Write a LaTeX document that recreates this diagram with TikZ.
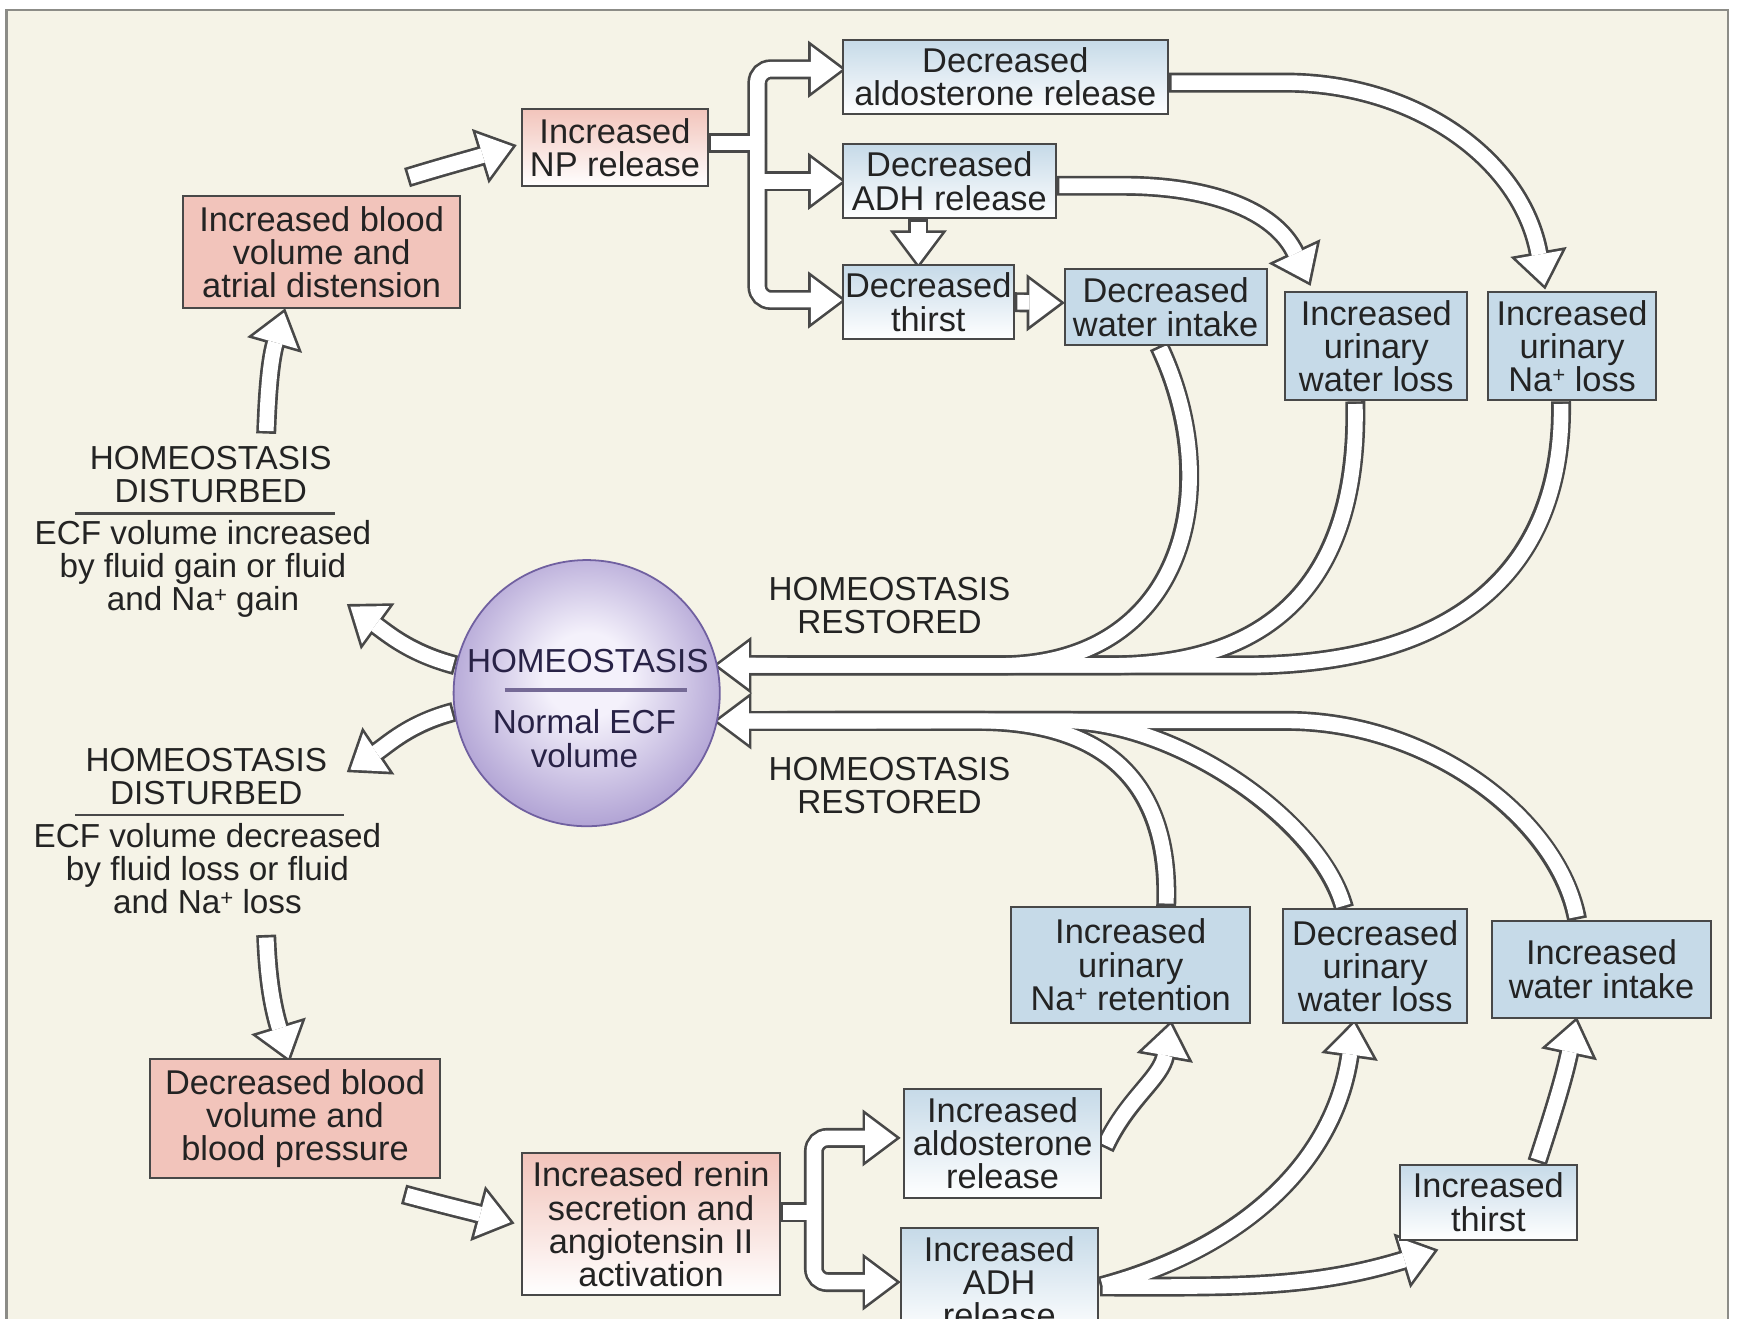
\documentclass[tikz,border=0pt]{standalone}
\usepackage{fontspec}
\setmainfont{Liberation Sans}
\usetikzlibrary{calc}
\definecolor{cream}{RGB}{245,243,231}
\definecolor{frame}{RGB}{140,140,135}
\definecolor{edge}{RGB}{72,72,72}
\definecolor{ink}{RGB}{35,35,35}
\definecolor{ballink}{RGB}{40,34,70}
\definecolor{pinkbox}{RGB}{242,196,187}
\definecolor{bluebox}{RGB}{198,218,232}
\definecolor{ballin}{RGB}{244,241,251}
\definecolor{ballout}{RGB}{152,134,198}
\definecolor{ballrim}{RGB}{112,96,160}
\pgfdeclareradialshading{homeball}{\pgfpoint{0bp}{4bp}}{color(0bp)=(ballin); color(8bp)=(ballin); color(34bp)=(ballout); color(50bp)=(ballout)}
\pgfdeclarelayer{back}
\pgfdeclarelayer{arr}
\pgfsetlayers{back,arr,main}
\newcommand\naplus{Na\raisebox{0.25em}{\fontsize{10}{10}\selectfont +}}
\tikzstyle{bx}=[rectangle,draw=edge,line width=0.9pt,align=center,
  inner sep=0pt,text=ink,font=\fontsize{15.5}{15}\selectfont]
\tikzstyle{pk}=[bx,fill=pinkbox]
\tikzstyle{pkg}=[bx,top color=pinkbox,bottom color=white]
\tikzstyle{bl}=[bx,fill=bluebox]
\tikzstyle{blg}=[bx,top color=bluebox,bottom color=white]
\tikzstyle{lb}=[align=center,inner sep=0pt,text=ink]
\tikzstyle{ball}=[circle,draw=ballrim,line width=0.8pt,shading=homeball,
  minimum size=120pt,inner sep=0pt]
\tikzstyle{dk}=[draw=edge,line width=9pt,shorten >=14pt]
\tikzstyle{wt}=[draw=white,line width=6.6pt,shorten >=14pt,shorten <=1.2pt]
\tikzset{
  hdk/.pic={\filldraw[draw=edge,fill=edge,line width=2.4pt,line join=miter]
    (-28,-21) -- (0,0) -- (-28,21) -- cycle;},
  hwt/.pic={\fill[white] (-28,-21) -- (0,0) -- (-28,21) -- cycle;}
}
% shafts of all block arrows, drawn twice (outline, then white body)
\newcommand\blockpaths[1]{
  \draw[#1] (t1) to[out=17, in=197] (h1);
  \draw[#1] (t2) to[out=88, in=254] (h2);
  \draw[#1] (home.168) to[out=165, in=-36] (h3);
  \draw[#1] (home.188) to[out=195, in=34] (h4);
  \draw[#1] (t5) to[out=-88, in=107] (h5);
  \draw[#1] (t6) to[out=-15, in=165] (h6);
  % NP fork
  \draw[#1, shorten >=0pt] ($(np.east)+(0,4)$) -- (fk1);
  \draw[#1, shorten <=0pt, rounded corners=6pt] (fk1) |- (h7a);
  \draw[#1, shorten <=0pt, rounded corners=6pt] (fk1) |- (h7c);
  \draw[#1, shorten <=0pt] (fk1 |- h7b) -- (h7b);
  % renin fork
  \draw[#1, shorten >=0pt] ($(renin.east)+(0,11)$) -- (fk2);
  \draw[#1, shorten <=0pt, rounded corners=6pt] (fk2) |- (h8a);
  \draw[#1, shorten <=0pt, rounded corners=6pt] (fk2) |- (h8b);
  \draw[#1] ($(adhdn.south)+(-28,0)$) -- (h9);
  \draw[#1] (thirstdn.east) -- (h10);
  \draw[#1] ($(adhdn.east)+(0,-4)$) -- ++(60,0) to[out=0, in=115] (h11);
  \draw[#1] ($(aldodn.east)+(0,-5)$) -- ++(105,0) to[out=0, in=100] (h12);
  % back to the centre
  \draw[#1] ($(waterdn.south)+(-6,0)$) .. controls (1105,750) and (1070,589) .. (900,589) -- (h13);
  \draw[#1] ($(uwlup.south)+(-19,0)$) .. controls (1225,690) and (1170,589) .. (1000,589) -- (h13);
  \draw[#1] ($(unaup.south)+(-10,0)$) .. controls (1410,690) and (1330,589) .. (1120,589) -- (h13);
  \draw[#1] ($(naret.north)+(32,0)$) .. controls (1055,470) and (1010,539) .. (880,539) -- (h14);
  \draw[#1] ($(uwldn.north)+(-28,0)$) .. controls (1190,450) and (1060,539) .. (960,539) -- (h14);
  \draw[#1] ($(wiup.north)+(-22,0)$) .. controls (1405,450) and (1290,539) .. (1160,539) -- (h14);
  \draw[#1] ($(aldoup.east)+(2,-4)$) to[out=65, in=260] (h15);
  \draw[#1] ($(adhup.east)+(1,-4)$) to[out=15, in=262] (h16);
  \draw[#1] ($(adhup.east)+(1,-4)$) to[out=0, in=197] (h17);
  \draw[#1] ($(thirstup.north)+(44,1)$) to[out=72, in=258] (h18);
}
\newcommand\blockheads[1]{
  \pic[rotate=17] at (h1) {#1};
  \pic[rotate=74] at (h2) {#1};
  \pic[rotate=144] at (h3) {#1};
  \pic[rotate=214] at (h4) {#1};
  \pic[rotate=-73] at (h5) {#1};
  \pic[rotate=-15] at (h6) {#1};
  \foreach \h in {h7a,h7b,h7c,h8a,h8b,h10} \pic at (\h) {#1};
  \pic[rotate=-90] at (h9) {#1};
  \pic[rotate=-65] at (h11) {#1};
  \pic[rotate=-80] at (h12) {#1};
  \pic[rotate=180] at (h13) {#1};
  \pic[rotate=180] at (h14) {#1};
  \pic[rotate=80] at (h15) {#1};
  \pic[rotate=82] at (h16) {#1};
  \pic[rotate=17] at (h17) {#1};
  \pic[rotate=78] at (h18) {#1};
}

\begin{document}
\begin{tikzpicture}[x=0.5pt, y=0.5pt, font=\fontsize{15}{15}\selectfont]
            \useasboundingbox (0,0) rectangle (1568,1189);
            \begin{pgfonlayer}{back}
                \fill[white] (0,0) rectangle (1568,1189);
                \filldraw[fill=cream, draw=frame, line width=1.2pt] (6,-20) rectangle (1558,1180);
            \end{pgfonlayer}

            % volume increased
            \node [style=pk, minimum width=125pt, minimum height=50.5pt] (bvup) at (290, 961.5) {Increased blood\\volume and\\atrial distension};
            \node [style=pkg, minimum width=83.5pt, minimum height=35pt] (np) at (554.5, 1056) {Increased\\NP release};
            \node [style=blg, minimum width=146.5pt, minimum height=33.5pt] (aldodn) at (906.5, 1119.5) {Decreased\\aldosterone release};
            \node [style=blg, minimum width=96pt, minimum height=33.5pt] (adhdn) at (856, 1025.5) {Decreased\\ADH release};
            \node [style=blg, minimum width=77pt, minimum height=33.5pt] (thirstdn) at (837, 916.5) {Decreased\\thirst};
            \node [style=bl, minimum width=91pt, minimum height=34pt] (waterdn) at (1051, 912) {Decreased\\water intake};
            \node [style=bl, minimum width=82pt, minimum height=49pt] (uwlup) at (1241, 877) {Increased\\urinary\\water loss};
            \node [style=bl, minimum width=75.5pt, minimum height=49pt] (unaup) at (1417.5, 877) {Increased\\urinary\\\naplus{} loss};

            % centre
            \node [style=ball] (home) at (529, 564) {};
            \node [style=lb, text=ballink] (hmtop) at (530, 593) {HOMEOSTASIS};
            \node [style=lb, text=ballink] (hmbot) at (527, 523) {Normal ECF\\volume};
            \draw [ballrim!70!gray, line width=1.6pt] (455,567) -- (619,567);

            \node [style=lb] (dia) at (190, 761) {HOMEOSTASIS\\DISTURBED};
            \node [style=lb] (dib) at (183, 676) {ECF volume increased\\by fluid gain or fluid\\and \naplus{} gain};
            \draw [edge, line width=1pt] (68,726) -- (302,726);
            \node [style=lb] (dic) at (186, 489) {HOMEOSTASIS\\DISTURBED};
            \node [style=lb] (did) at (187, 406) {ECF volume decreased\\by fluid loss or fluid\\and \naplus{} loss};
            \draw [edge, line width=1pt] (68,454) -- (310,454);
            \node [style=lb] (rsa) at (802, 643) {HOMEOSTASIS\\RESTORED};
            \node [style=lb] (rsb) at (802, 481) {HOMEOSTASIS\\RESTORED};

            % volume decreased
            \node [style=pk, minimum width=131pt, minimum height=53.5pt] (bvdn) at (266, 180.5) {Decreased blood\\volume and\\blood pressure};
            \node [style=pkg, minimum width=116pt, minimum height=64pt] (renin) at (587, 85) {Increased renin\\secretion and\\angiotensin II\\activation};
            \node [style=blg, minimum width=89pt, minimum height=49pt] (aldoup) at (904, 158) {Increased\\aldosterone\\release};
            \node [style=blg, minimum width=89pt, minimum height=49pt] (adhup) at (901, 33) {Increased\\ADH\\release};
            \node [style=bl, minimum width=107.5pt, minimum height=52pt] (naret) at (1019.5, 319) {Increased\\urinary\\\naplus{} retention};
            \node [style=bl, minimum width=83pt, minimum height=51pt] (uwldn) at (1240, 318) {Decreased\\urinary\\water loss};
            \node [style=bl, minimum width=99pt, minimum height=44pt] (wiup) at (1444, 315) {Increased\\water intake};
            \node [style=blg, minimum width=80pt, minimum height=34pt] (thirstup) at (1342, 105) {Increased\\thirst};

            % arrow ends
            \coordinate (t1) at ($(bvup.north)+(77,16)$);
            \coordinate (h1) at ($(np.west)+(-8,1)$);
            \coordinate (t2) at (240,798);
            \coordinate (h2) at ($(bvup.south)+(-34,-3)$);
            \coordinate (h3) at (316,642);
            \coordinate (h4) at (316,495);
            \coordinate (t5) at (240,346);
            \coordinate (h5) at ($(bvdn.north)+(-6,0)$);
            \coordinate (t6) at ($(bvdn.south east)+(-34,-14)$);
            \coordinate (h6) at ($(renin.west)+(-10,2)$);
            \coordinate (fk1) at ($(np.east)+(44,4)$);
            \coordinate (h7a) at ($(aldodn.west)+(0,7)$);
            \coordinate (h7b) at (adhdn.west);
            \coordinate (h7c) at ($(thirstdn.west)+(0,2)$);
            \coordinate (fk2) at ($(renin.east)+(30,11)$);
            \coordinate (h8a) at ($(aldoup.west)+(-6,5)$);
            \coordinate (h8b) at ($(adhup.west)+(-3,0)$);
            \coordinate (h9) at ($(thirstdn.north)+(-9,0)$);
            \coordinate (h10) at ($(waterdn.west)+(-3,4)$);
            \coordinate (h11) at ($(uwlup.north)+(-61,8)$);
            \coordinate (h12) at ($(unaup.north)+(-25,5)$);
            \coordinate (h13) at (home.12);
            \coordinate (h14) at (home.-12);
            \coordinate (h15) at ($(naret.south)+(36,-1)$);
            \coordinate (h16) at ($(uwldn.south)+(-19,0)$);
            \coordinate (h17) at ($(thirstup.south west)+(32,-9)$);
            \coordinate (h18) at ($(wiup.south)+(-23,-2)$);

            \begin{pgfonlayer}{arr}
                \blockpaths{dk}
                \blockheads{hdk}
                \blockpaths{wt}
                \blockheads{hwt}
            \end{pgfonlayer}
\end{tikzpicture}
\end{document}
